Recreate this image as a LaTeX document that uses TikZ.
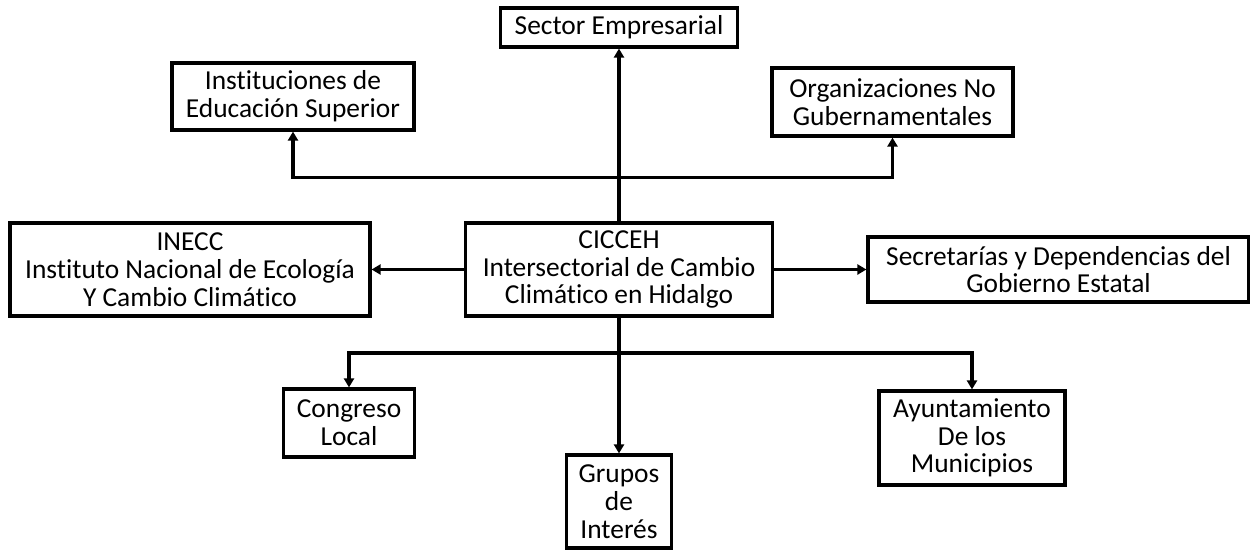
\documentclass[tikz,border=0pt]{standalone}
\usepackage{fontspec}
\setmainfont{Carlito}[Ligatures=NoCommon]
\usetikzlibrary{arrows.meta}
\begin{document}
\begin{tikzpicture}
[box/.style={shape=rectangle,draw,line width=1.8pt,align=center,inner sep=0pt,
  font=\fontsize{15.6}{15.8}\selectfont},
 arr/.style={line width=1.8pt,-{Triangle[length=1.8mm,width=2mm]}}]
\useasboundingbox (0,0) rectangle (25,-11);
\path (12.38,-0.55) node (sector) [box,minimum width=4.74cm,minimum height=0.78cm] {Sector Empresarial}
(5.86,-1.93) node (ies) [box,minimum width=4.84cm,minimum height=1.34cm] {Instituciones de\\Educación Superior}
(17.85,-2.04) node (ong) [box,minimum width=4.82cm,minimum height=1.36cm] {Organizaciones No\\Gubernamentales}
(12.38,-5.39) node (cicceh) [box,minimum width=6.14cm,minimum height=1.86cm] {CICCEH\\Intersectorial de Cambio\\Climático en Hidalgo}
(3.8,-5.39) node (inecc) [box,minimum width=7.2cm,minimum height=1.86cm] {INECC\\Instituto Nacional de Ecología\\Y Cambio Climático}
(21.17,-5.39) node (secre) [box,minimum width=7.62cm,minimum height=1.3cm] {Secretarías y Dependencias del\\Gobierno Estatal}
(6.98,-8.46) node (congreso) [box,minimum width=2.62cm,minimum height=1.36cm] {Congreso\\Local}
(12.38,-10.03) node (grupos) [box,minimum width=2.1cm,minimum height=1.86cm] {Grupos\\de\\Interés}
(19.44,-8.76) node (ayunt) [box,minimum width=3.72cm,minimum height=1.88cm] {Ayuntamiento\\De los\\Municipios};
\coordinate (top) at (12.38,-3.55);
\coordinate (bot) at (12.38,-7.06);
\draw [arr] (cicceh.north) -- (sector.south);
\draw [arr] (top) -| (ies.south);
\draw [arr] (top) -| (ong.south);
\draw [arr] (cicceh.west) -- (inecc.east);
\draw [arr] (cicceh.east) -- (secre.west);
\draw [arr] (cicceh.south) -- (grupos.north);
\draw [arr] (bot) -| (congreso.north);
\draw [arr] (bot) -| (ayunt.north);
\end{tikzpicture}
\end{document}
